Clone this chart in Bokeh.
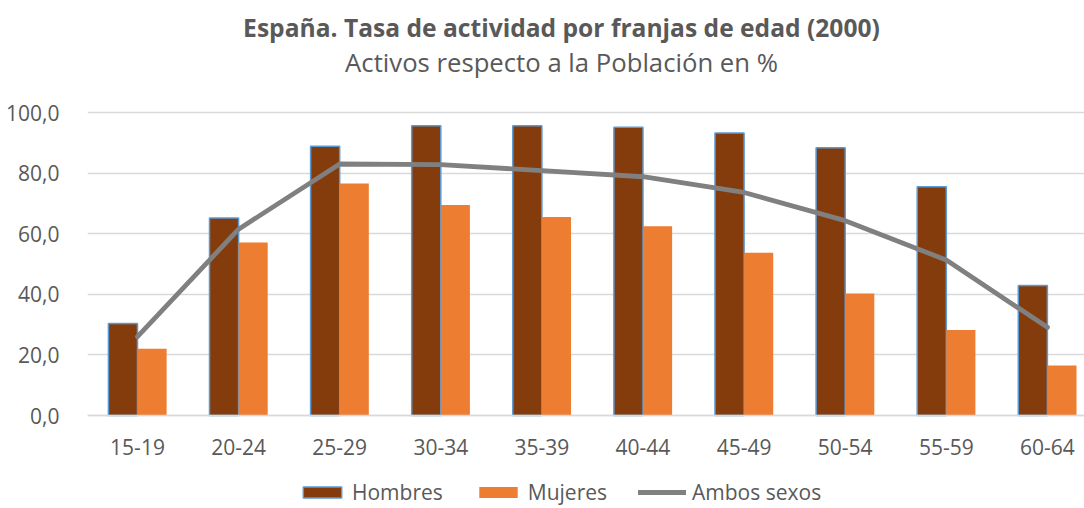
from bokeh.plotting import figure
from bokeh.models import Range1d, FixedTicker, Legend, LegendItem, Label, ColumnDataSource
from bokeh.transform import dodge
from bokeh.embed import file_html
from bokeh.resources import INLINE

categories = ["15-19", "20-24", "25-29", "30-34", "35-39", "40-44", "45-49", "50-54", "55-59", "60-64"]
hombres = [30.4, 65.2, 88.9, 95.6, 95.6, 95.1, 93.2, 88.4, 75.5, 42.9]
mujeres = [22.0, 57.1, 76.6, 69.5, 65.5, 62.5, 53.7, 40.3, 28.2, 16.5]
ambos = [26.0, 61.5, 83.0, 82.8, 80.8, 78.8, 73.6, 64.3, 51.3, 29.1]
y_ticks = [0, 20, 40, 60, 80, 100]
y_tick_labels = ["0,0", "20,0", "40,0", "60,0", "80,0", "100,0"]

title_text = "España. Tasa de actividad por franjas de edad (2000)"
subtitle_text = "Activos respecto a la Población en %"

TXT = "#595959"
FONT = "Open Sans"

W, H = 1084, 508
LEFT = 87
# vertical scale: value 0 at 415px, value 100 at 112px from the top
PX_PER_UNIT = (415 - 112) / 100.0
y_top = 100 + 112 / PX_PER_UNIT
y_bottom = -(H - 415) / PX_PER_UNIT

idx = list(range(len(categories)))
src = ColumnDataSource(dict(x=idx, cat=categories, h=hombres, m=mujeres, a=ambos))

p = figure(width=W, height=H, output_backend="svg", toolbar_location=None,
           x_range=Range1d(-0.4946, 9.367), y_range=Range1d(y_bottom, y_top),
           min_border_left=LEFT, min_border_right=0, min_border_top=0, min_border_bottom=0)
p.outline_line_color = None
p.background_fill_color = "white"

bw = 0.288
r_h = p.vbar(x=dodge("x", -bw / 2, range=p.x_range), top="h", width=bw, source=src,
             fill_color="#843C0C", line_color="#5B9BD5", line_width=1.5)
r_m = p.vbar(x=dodge("x", bw / 2, range=p.x_range), top="m", width=bw, source=src,
             fill_color="#ED7D31", line_color=None)
r_a = p.line(x="x", y="a", source=src, line_color="#808080", line_width=4.8,
             line_join="round", line_cap="round")

p.xaxis.fixed_location = 0
p.xaxis.ticker = FixedTicker(ticks=idx)
p.xaxis.major_label_overrides = {i: c for i, c in zip(idx, categories)}
p.xaxis.axis_line_color = "#D9D9D9"
p.xaxis.axis_line_width = 1.5
p.xaxis.major_tick_line_color = None
p.xaxis.minor_tick_line_color = None
p.xaxis.major_label_text_font = FONT
p.xaxis.major_label_text_font_size = "21px"
p.xaxis.major_label_text_color = TXT
p.xaxis.major_label_standoff = 17

p.yaxis.ticker = FixedTicker(ticks=y_ticks)
p.yaxis.major_label_overrides = {t: l for t, l in zip(y_ticks, y_tick_labels)}
p.yaxis.axis_line_color = None
p.yaxis.major_tick_line_color = None
p.yaxis.minor_tick_line_color = None
p.yaxis.major_label_text_font = FONT
p.yaxis.major_label_text_font_size = "21px"
p.yaxis.major_label_text_color = TXT
p.yaxis.major_label_standoff = 22

p.xgrid.grid_line_color = None
p.ygrid.ticker = FixedTicker(ticks=y_ticks)
p.ygrid.grid_line_color = "#D9D9D9"
p.ygrid.grid_line_width = 1.5

cx = 561 - LEFT
p.add_layout(Label(x=cx, y=H - 27, x_units="screen", y_units="screen", text=title_text,
                   text_align="center", text_baseline="middle", text_font=FONT,
                   text_font_size="24.6px", text_font_style="bold", text_color=TXT))
p.add_layout(Label(x=cx, y=H - 62, x_units="screen", y_units="screen", text=subtitle_text,
                   text_align="center", text_baseline="middle", text_font=FONT,
                   text_font_size="25.7px", text_color=TXT))

legend = Legend(items=[LegendItem(label="Hombres", renderers=[r_h]),
                       LegendItem(label="Mujeres", renderers=[r_m]),
                       LegendItem(label="Ambos sexos", renderers=[r_a])],
                orientation="horizontal", location=(298 - LEFT, 2),
                glyph_width=48, glyph_height=14, label_standoff=6, spacing=31,
                padding=0, margin=0, border_line_color=None, background_fill_alpha=0,
                label_text_font=FONT, label_text_font_size="21px", label_text_color=TXT)
p.add_layout(legend, "center")

open("out.html", "w").write(file_html(p, INLINE))
